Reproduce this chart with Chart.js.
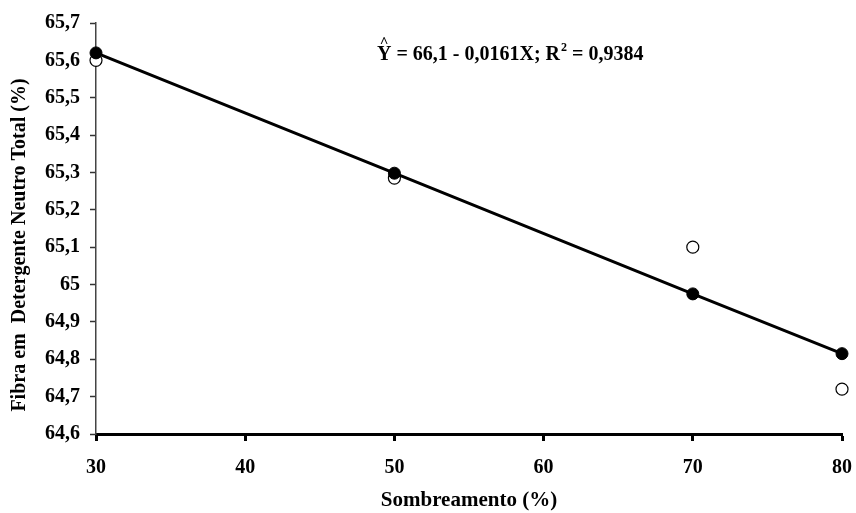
<!DOCTYPE html>
<html>
<head>
<meta charset="utf-8">
<script src="https://cdn.jsdelivr.net/npm/chart.js@4/dist/chart.umd.min.js"></script>
<style>
    html, body { margin: 0; padding: 0; background: #fff; }
    #wrap { width: 856px; height: 513px; }
</style>
</head>
<body>
<div id="wrap"><canvas id="fdnChart" width="856" height="513"></canvas></div>
<script>
// sombreamento (%)
const shading = [30, 50, 70, 80];
// observed FDN values (open circles)
const observed = [65.60, 65.285, 65.10, 64.72];
// fitted values from Y = 66,1 - 0,0161X (filled circles)
const fitted = [65.62, 65.298, 64.975, 64.815];
const yTicks = [64.6, 64.7, 64.8, 64.9, 65.0, 65.1, 65.2, 65.3, 65.4, 65.5, 65.6, 65.7];
const xTicks = [30, 40, 50, 60, 70, 80];
const yTitle = 'Fibra em  Detergente Neutro Total (%)';

const serif = "'Liberation Serif', 'Times New Roman', serif";

function toPoints(xs, ys) {
    return xs.map(function (x, i) { return { x: x, y: ys[i] }; });
}

function fmtComma(v) {
    return parseFloat(v.toFixed(1)).toString().replace('.', ',');
}

// equation label and y title drawn on the canvas
const textPlugin = {
    id: 'equation',
    afterDatasetsDraw: function (chart) {
        const ctx = chart.ctx;
        ctx.save();
        ctx.fillStyle = '#000';
        ctx.textBaseline = 'alphabetic';
        ctx.font = 'bold 20px ' + serif;
        let x = 377, y = 60;
        ctx.fillText('Y', x, y);
        let yw = ctx.measureText('Y').width;
        ctx.font = 'bold 15px ' + serif;
        ctx.textAlign = 'center';
        ctx.fillText('^', x + yw / 2, y - 13);
        ctx.textAlign = 'left';
        ctx.font = 'bold 20px ' + serif;
        x += yw;
        let part1 = ' = 66,1 - 0,0161X; R';
        ctx.fillText(part1, x, y);
        x += ctx.measureText(part1).width;
        ctx.font = 'bold 12px ' + serif;
        ctx.fillText('2', x + 1, y - 9);
        x += ctx.measureText('2').width + 1;
        ctx.font = 'bold 20px ' + serif;
        ctx.fillText(' = 0,9384', x, y);

        // y axis title
        ctx.translate(20, 245);
        ctx.rotate(-Math.PI / 2);
        ctx.textAlign = 'center';
        ctx.textBaseline = 'middle';
        ctx.font = 'bold 20px ' + serif;
        ctx.fillText(yTitle, 0, 0);
        ctx.restore();
    }
};

const config = {
    type: 'scatter',
    data: {
        datasets: [
            {
                type: 'line',
                label: 'Estimado',
                data: toPoints(shading, fitted),
                borderColor: '#000',
                borderWidth: 3,
                backgroundColor: '#000',
                pointRadius: 6,
                pointBackgroundColor: '#000',
                pointBorderColor: '#000',
                pointBorderWidth: 1,
                tension: 0,
                clip: false
            },
            {
                label: 'Observado',
                data: toPoints(shading, observed),
                pointRadius: 6,
                pointBackgroundColor: '#fff',
                pointBorderColor: '#000',
                pointBorderWidth: 1.2,
                showLine: false,
                clip: false
            }
        ]
    },
    plugins: [textPlugin],
    options: {
        responsive: false,
        animation: false,
        layout: {
            padding: { top: 23, right: 14, left: 0, bottom: 0 }
        },
        plugins: {
            legend: { display: false },
            tooltip: { enabled: false }
        },
        scales: {
            x: {
                type: 'linear',
                min: 30,
                max: 80,
                afterBuildTicks: function (scale) {
                    scale.ticks = xTicks.map(function (v) { return { value: v }; });
                },
                afterFit: function (scale) {
                    scale.height = 79;
                    scale.paddingLeft = 0;
                    scale.paddingRight = 0;
                },
                grid: {
                    drawOnChartArea: false,
                    drawTicks: true,
                    tickLength: 7,
                    tickWidth: 3,
                    tickColor: '#000'
                },
                border: { color: '#000', width: 3 },
                ticks: {
                    color: '#000',
                    padding: 15,
                    maxRotation: 0,
                    font: { family: serif, size: 20, weight: 'bold' }
                },
                title: {
                    display: true,
                    text: 'Sombreamento (%)',
                    color: '#000',
                    padding: { top: 4, bottom: 0 },
                    font: { family: serif, size: 21, weight: 'bold' }
                }
            },
            y: {
                min: 64.6,
                max: 65.7,
                afterBuildTicks: function (scale) {
                    scale.ticks = yTicks.map(function (v) { return { value: v }; });
                },
                afterFit: function (scale) {
                    scale.width = 96;
                    scale.paddingTop = 0;
                    scale.paddingBottom = 0;
                },
                grid: {
                    drawOnChartArea: false,
                    drawTicks: true,
                    tickLength: 6,
                    tickWidth: 1.5,
                    tickColor: '#333'
                },
                border: { color: '#444', width: 1.5 },
                ticks: {
                    color: '#000',
                    padding: 10,
                    callback: function (v) { return fmtComma(v); },
                    font: { family: serif, size: 20, weight: 'bold' }
                }
            }
        }
    }
};

const myFdnChart = new Chart(document.getElementById('fdnChart'), config);
</script>
</body>
</html>
